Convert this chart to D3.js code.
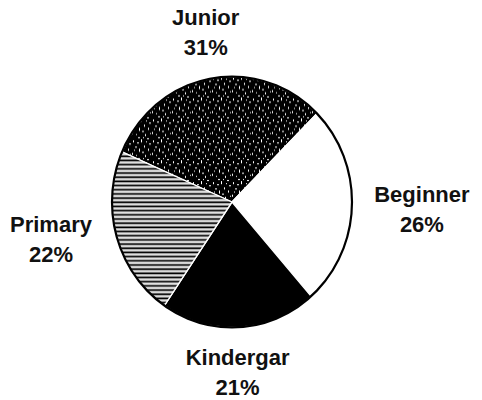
<!DOCTYPE html>
<html>
<head>
<meta charset="utf-8">
<script src="https://cdn.jsdelivr.net/npm/d3@7"></script>
<style>
  body { margin: 0; background: #fff; }
  svg text { font-family: "Liberation Sans", Arial, sans-serif; font-weight: bold; font-size: 22px; fill: #111; }
</style>
</head>
<body>
<script>
// slice order is clockwise from the Junior slice
var categories = ["Junior", "Beginner", "Kindergar", "Primary"];
var shares = [31, 26, 21, 22];
var fills = ["url(#speckle)", "#fff", "#000", "url(#hlines)"];

var width = 482, height = 400;
var cx = 232, cy = 202, radius = 120;

var svg = d3.select("body").append("svg")
    .attr("width", width)
    .attr("height", height);

var defs = svg.append("defs");

// black with white flecks, like the scanned dot fill
var speckle = defs.append("pattern")
    .attr("id", "speckle")
    .attr("patternUnits", "userSpaceOnUse")
    .attr("width", 20).attr("height", 20);
speckle.append("rect").attr("width", 20).attr("height", 20).attr("fill", "#000");
var flecks = [[1,1,1,2],[5,3,2,1],[9,0,1,3],[14,2,1,1],[17,4,2,1],[12,6,1,2],
              [3,7,2,1],[7,9,1,3],[16,9,1,2],[10,12,2,1],[0,13,1,2],[4,15,1,1],
              [13,15,1,2],[18,14,1,1],[6,18,2,1],[11,18,1,1],[15,19,2,1],[2,10,1,1]];
speckle.selectAll("rect.f")
  .data(flecks)
  .enter().append("rect")
    .attr("class", "f")
    .attr("x", function(d) { return d[0]; })
    .attr("y", function(d) { return d[1]; })
    .attr("width", function(d) { return d[2]; })
    .attr("height", function(d) { return d[3]; })
    .attr("fill", "#fff");

// horizontal line shading
var hlines = defs.append("pattern")
    .attr("id", "hlines")
    .attr("patternUnits", "userSpaceOnUse")
    .attr("width", 8).attr("height", 4);
var rows = ["#000", "#888", "#fff", "#555"];
hlines.selectAll("rect")
  .data(rows)
  .enter().append("rect")
    .attr("x", 0)
    .attr("y", function(d, i) { return i; })
    .attr("width", 8).attr("height", 1)
    .attr("fill", function(d) { return d; });

var pie = d3.pie()
    .sort(null)
    .startAngle(-66.5 * Math.PI / 180)
    .endAngle((360 - 66.5) * Math.PI / 180);

var arcs = pie(shares);

var arc = d3.arc().innerRadius(0).outerRadius(radius);

// the scan is a little taller than wide
var g = svg.append("g")
    .attr("transform", "translate(" + cx + "," + cy + ") scale(1,1.045)");

g.selectAll("path.slice")
  .data(arcs)
  .enter().append("path")
    .attr("class", "slice")
    .attr("d", arc)
    .attr("fill", function(d, i) { return fills[i]; })
    .attr("stroke", "#fff")
    .attr("stroke-width", 1.3)
    .attr("stroke-linejoin", "round");

g.append("circle")
    .attr("r", radius)
    .attr("fill", "none")
    .attr("stroke", "#000")
    .attr("stroke-width", 2.2);

// labels sit on an oval round the pie, with a small hand nudge each
var lrx = 190, lry = 165;
var nudge = [[9, -8], [0, 1.5], [-6, 5], [1.5, -8.5]];
var labels = svg.selectAll("g.label")
  .data(arcs)
  .enter().append("g")
    .attr("class", "label")
    .attr("transform", function(d, i) {
      var a = (d.startAngle + d.endAngle) / 2;
      return "translate(" + (cx + lrx * Math.sin(a) + nudge[i][0]) + "," +
        (cy - lry * Math.cos(a) + nudge[i][1]) + ")";
    });

labels.append("text")
    .attr("text-anchor", "middle")
    .attr("y", -7)
    .text(function(d, i) { return categories[i]; });

labels.append("text")
    .attr("text-anchor", "middle")
    .attr("y", 23)
    .text(function(d) { return d.data + "%"; });
</script>
</body>
</html>
